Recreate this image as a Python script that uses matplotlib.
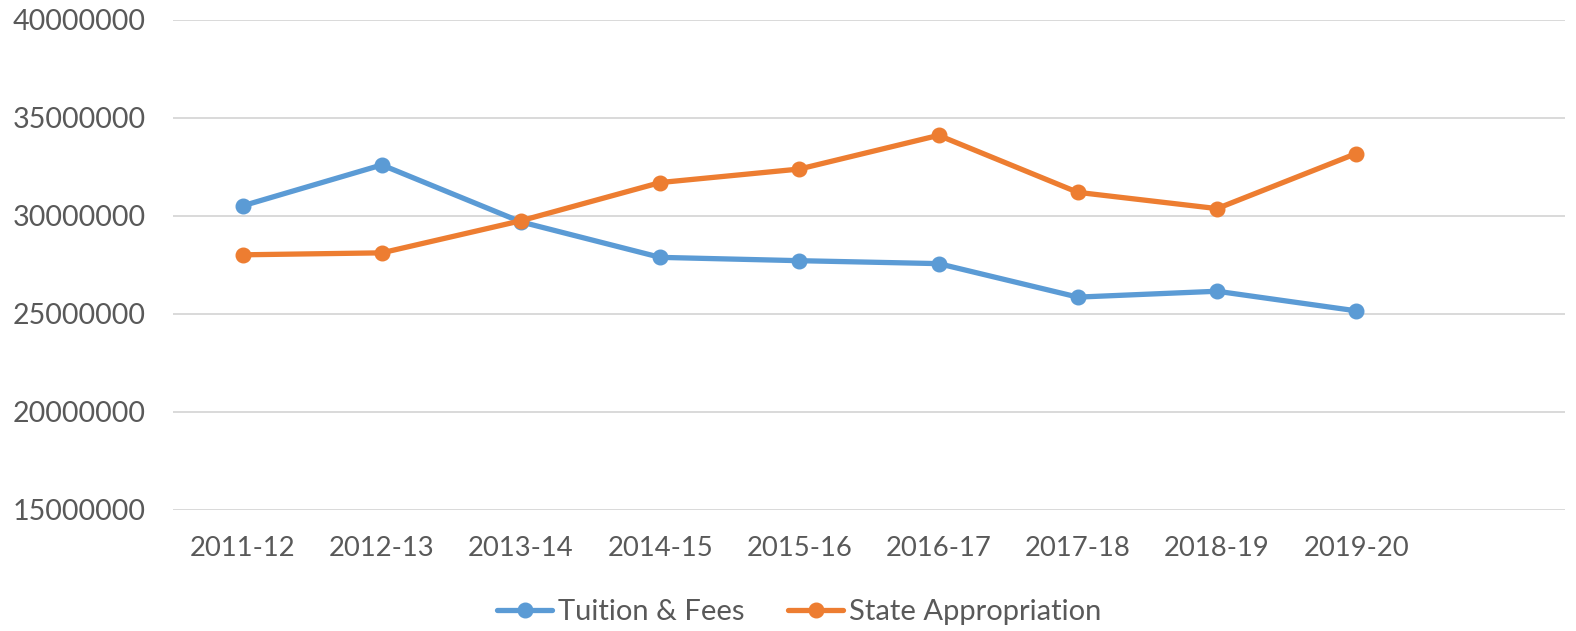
import matplotlib
matplotlib.use("Agg")
import matplotlib.pyplot as plt
from matplotlib.ticker import FixedLocator, FuncFormatter

categories = ["2011-12", "2012-13", "2013-14", "2014-15", "2015-16",
              "2016-17", "2017-18", "2018-19", "2019-20"]
tuition_fees = [30510000, 32600000, 29690000, 27880000, 27710000,
                27560000, 25850000, 26150000, 25150000]
state_appropriation = [28010000, 28110000, 29750000, 31700000, 32390000,
                       34110000, 31200000, 30370000, 33180000]
y_ticks = [15000000, 20000000, 25000000, 30000000, 35000000, 40000000]

plt.rcParams['font.family'] = ['Lato', 'DejaVu Sans']

W, H = 1576, 631
fig = plt.figure(figsize=(W / 100, H / 100), dpi=100)
left, right, top, bottom = 173, 1565, 20, 509.6
ax = fig.add_axes([left / W, 1 - bottom / H, (right - left) / W, (bottom - top) / H])

blue = "#5B9BD5"
orange = "#ED7D31"
x = list(range(len(categories)))
ax.plot(x, tuition_fees, color=blue, lw=3.8, marker='o', ms=10.5,
        label="Tuition & Fees", zorder=3, solid_capstyle='round')
ax.plot(x, state_appropriation, color=orange, lw=3.8, marker='o', ms=10.5,
        label="State Appropriation", zorder=4, solid_capstyle='round')

ax.set_xlim(-0.5, len(categories) + 0.5)
ax.set_ylim(y_ticks[0], y_ticks[-1])
ax.yaxis.set_major_locator(FixedLocator(y_ticks))
ax.yaxis.set_major_formatter(FuncFormatter(lambda v, p: f"{int(v)}"))
ax.set_xticks(x)
ax.set_xticklabels(categories)

ax.grid(axis='y', color='#D9D9D9', lw=1.4)
ax.set_axisbelow(True)
for s in ax.spines.values():
    s.set_visible(False)
ax.tick_params(axis='both', length=0, colors='#595959')
ax.tick_params(axis='y', pad=19.5, labelsize=20.6)
ax.tick_params(axis='x', pad=19, labelsize=19.7)

fig.legend(loc='center', bbox_to_anchor=(799 / W, 1 - 612 / H), ncol=2,
           frameon=False, fontsize=21, handlelength=1.9, handletextpad=0.18,
           columnspacing=1.5, labelcolor='#595959')

fig.savefig("out.png", dpi=100)
